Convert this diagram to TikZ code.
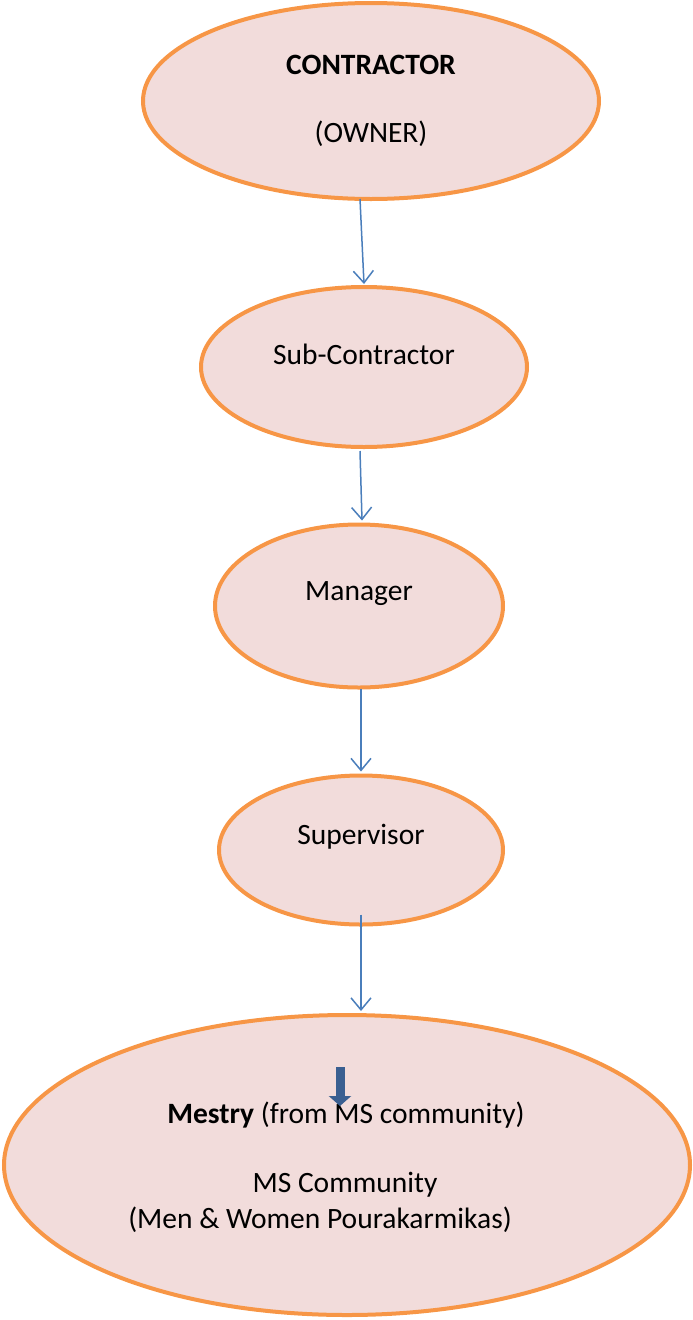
\documentclass[tikz,border=0pt]{standalone}
\usepackage{fontspec}
\setmainfont{Carlito}
\usetikzlibrary{arrows.meta,calc,shapes.geometric}
\definecolor{fillpink}{HTML}{F2DCDB}
\definecolor{edgeorange}{HTML}{F79646}
\definecolor{linkblue}{HTML}{4A7EBB}
\definecolor{darkblue}{HTML}{3A5F91}
\begin{document}
\begin{tikzpicture}[x=1pt,y=-1pt,
  oval/.style={ellipse,draw=edgeorange,fill=fillpink,line width=4pt,inner sep=0pt},
  lbl/.style={inner sep=0pt,font=\fontsize{29.5}{35}\selectfont,align=center},
  link/.style={draw=linkblue,line width=1.5pt,-{Straight Barb[length=12pt,width=20pt,line width=1.5pt]}},
  bigarrow/.style={draw=darkblue,line width=9pt,-{Triangle[length=10pt,width=22pt]}}]
\useasboundingbox (0,0) rectangle (693,1320);
\node[oval,minimum width=456pt,minimum height=196pt] (e1) at (371,101) {};
\node[oval,minimum width=326pt,minimum height=160pt] (e2) at (364,367) {};
\node[oval,minimum width=288pt,minimum height=163pt] (e3) at (359,606) {};
\node[oval,minimum width=284pt,minimum height=149pt] (e4) at (361,850) {};
\node[oval,minimum width=686pt,minimum height=300pt] (e5) at (347,1165) {};
\node[lbl] (t1a) at (371,65) {\textbf{CONTRACTOR}};
\node[lbl] (t1b) at (371,134) {(OWNER)};
\node[lbl] (t2) at (364,354) {Sub-Contractor};
\node[lbl] (t3) at (359,594) {Manager};
\node[lbl] (t4) at (361,837) {Supervisor};
\node[lbl] (t5a) at (346,1115) {\textbf{Mestry} (from MS community)};
\node[lbl] (t5b) at (345,1185) {MS Community};
\node[lbl] (t5c) at (320,1220) {(Men \& Women Pourakarmikas)};
\draw[link] ($(e1.south)+(-11,-2)$) -- ($(e2.north)+(0,-1)$);
\draw[link] ($(e2.south)+(-4,2)$) -- ($(e3.north)+(3,-2)$);
\draw[link] ($(e3.south)+(2,-1)$) -- ($(e4.north)+(0,-2)$);
\draw[link] ($(e4.south)+(0,-12)$) -- ($(e5.north)+(14,-2)$);
\coordinate (m1) at (340,1067);
\coordinate (m2) at (340,1106);
\draw[bigarrow] (m1) -- (m2);
\end{tikzpicture}
\end{document}
